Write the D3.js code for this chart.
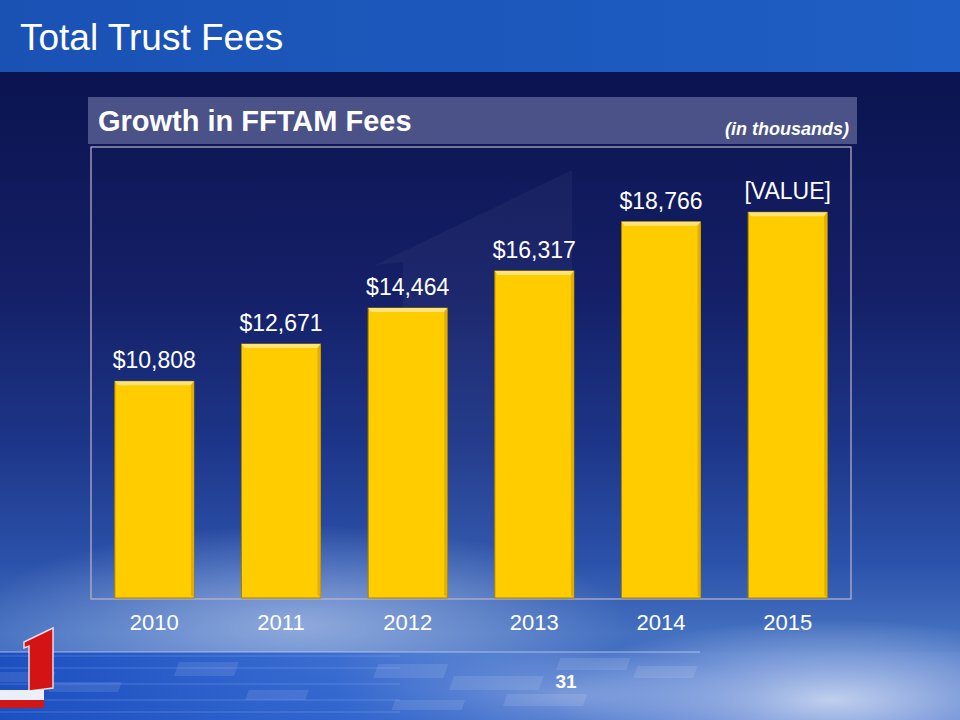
<!DOCTYPE html>
<html>
<head>
<meta charset="utf-8">
<script src="https://cdn.jsdelivr.net/npm/d3@7/dist/d3.min.js"></script>
<style>
  html, body { margin: 0; padding: 0; background: #0b1450; }
  svg { display: block; }
  text { font-family: "Liberation Sans", Arial, sans-serif; }
</style>
</head>
<body>
<svg id="chart" width="960" height="720"></svg>
<script>
// ---- data ----
const years = ["2010", "2011", "2012", "2013", "2014", "2015"];
const fees = [10808, 12671, 14464, 16317, 18766, 19243];
const feeLabels = ["$10,808", "$12,671", "$14,464", "$16,317", "$18,766", "[VALUE]"];
const slideTitle = "Total Trust Fees";
const chartTitle = "Growth in FFTAM Fees";
const unitNote = "(in thousands)";
const pageNumber = "31";

const svg = d3.select("#chart");
const W = 960, H = 720;
const defs = svg.append("defs");

// ---- background ----
const bg = defs.append("linearGradient").attr("id", "bg").attr("x1", 0).attr("y1", 0).attr("x2", 0).attr("y2", 1);
[[0.10, "#0b1450"], [0.40, "#141f66"], [0.62, "#1d3689"], [0.78, "#2b52aa"], [0.88, "#4470c0"], [1, "#3a66c4"]]
  .forEach(([o, c]) => bg.append("stop").attr("offset", o).attr("stop-color", c));
svg.append("rect").attr("width", W).attr("height", H).attr("fill", "url(#bg)");

const glow1 = defs.append("radialGradient").attr("id", "glow1");
glow1.append("stop").attr("offset", 0).attr("stop-color", "#a8bde6").attr("stop-opacity", 0.75);
glow1.append("stop").attr("offset", 1).attr("stop-color", "#a8bde6").attr("stop-opacity", 0);
svg.append("ellipse").attr("cx", 300).attr("cy", 625).attr("rx", 330).attr("ry", 100).attr("fill", "url(#glow1)");

const glow2 = defs.append("radialGradient").attr("id", "glow2");
glow2.append("stop").attr("offset", 0).attr("stop-color", "#ffffff").attr("stop-opacity", 0.75);
glow2.append("stop").attr("offset", 1).attr("stop-color", "#dfe8ff").attr("stop-opacity", 0);
svg.append("ellipse").attr("cx", 830).attr("cy", 700).attr("rx", 280).attr("ry", 80).attr("fill", "url(#glow2)");
svg.append("ellipse").attr("cx", 560).attr("cy", 695).attr("rx", 200).attr("ry", 45).attr("fill", "url(#glow2)").attr("opacity", 0.5);

// bottom strip (mosaic band)
const strip = defs.append("linearGradient").attr("id", "strip").attr("x1", 0).attr("x2", 1);
strip.append("stop").attr("offset", 0).attr("stop-color", "#1d4fc0");
strip.append("stop").attr("offset", 0.35).attr("stop-color", "#2c63d0").attr("stop-opacity", 0.8);
strip.append("stop").attr("offset", 0.6).attr("stop-color", "#5c86d8").attr("stop-opacity", 0.3);
strip.append("stop").attr("offset", 1).attr("stop-color", "#8aa8e6").attr("stop-opacity", 0.1);
svg.append("rect").attr("x", 0).attr("y", 652).attr("width", W).attr("height", 68).attr("fill", "url(#strip)");
svg.append("line").attr("x1", 0).attr("x2", 700).attr("y1", 652).attr("y2", 652)
  .attr("stroke", "#c8d4f0").attr("stroke-opacity", 0.5).attr("stroke-width", 1.5);
// mosaic tiles
const tiles = [[0,656,60,14],[70,660,80,12],[160,664,70,10],[20,676,90,10],[130,680,80,10],[240,672,60,10],
  [60,694,100,10],[200,690,90,12],[300,682,70,10],[420,662,60,14],[620,664,70,14],[700,676,90,14],
  [800,658,70,12],[880,666,60,12],[760,694,80,12],[650,700,70,10],[500,690,60,10]];
svg.append("g").selectAll("rect").data(tiles).join("rect")
  .attr("x", d => d[0]).attr("y", d => d[1]).attr("width", d => d[2]).attr("height", d => d[3])
  .attr("fill", "#ffffff").attr("opacity", 0.1).attr("transform", "skewX(-20)");
svg.append("g").selectAll("line").data([656, 668, 684, 700, 712]).join("line")
  .attr("x1", 0).attr("x2", 400).attr("y1", d => d).attr("y2", d => d)
  .attr("stroke", "#bcd0ff").attr("stroke-opacity", 0.25);

// top band
const band = defs.append("linearGradient").attr("id", "band").attr("x1", 0).attr("x2", 1);
band.append("stop").attr("offset", 0).attr("stop-color", "#1a52b4");
band.append("stop").attr("offset", 0.5).attr("stop-color", "#1c58bc");
band.append("stop").attr("offset", 1).attr("stop-color", "#1f5ec4");
svg.append("rect").attr("x", 0).attr("y", 0).attr("width", W).attr("height", 72).attr("fill", "url(#band)");

svg.append("text").attr("x", 20).attr("y", 50).attr("fill", "#ffffff")
  .attr("font-size", 37).text(slideTitle);

// logo "1"
const logo = svg.append("g");
logo.append("rect").attr("x", 0).attr("y", 690).attr("width", 44).attr("height", 10).attr("fill", "#ffffff").attr("opacity", 0.9);
logo.append("rect").attr("x", 0).attr("y", 700).attr("width", 44).attr("height", 8).attr("fill", "#d01818");
logo.append("path").attr("d", "M24,642 L53,628 L53,688 L29,691 L29,646 L24,648 Z")
  .attr("fill", "#d41414").attr("stroke", "#ffffff").attr("stroke-width", 1.5).attr("stroke-opacity", 0.8);

// ---- chart header ----
svg.append("rect").attr("x", 88).attr("y", 97).attr("width", 769).attr("height", 47).attr("fill", "#4a5288");
svg.append("text").attr("x", 98).attr("y", 131).attr("fill", "#ffffff")
  .attr("font-size", 29).attr("font-weight", "bold").text(chartTitle);
svg.append("text").attr("x", 849).attr("y", 135).attr("fill", "#ffffff").attr("text-anchor", "end")
  .attr("font-size", 18).attr("font-weight", "bold").attr("font-style", "italic").text(unitNote);

// ---- plot ----
const plot = { left: 91, right: 851, top: 147, bottom: 598 };

// faint background "1" watermark
svg.append("path").attr("d", "M375,265 L572,170 L572,598 L403,598 L403,262 Z")
  .attr("fill", "#ffffff").attr("opacity", 0.04);

svg.append("rect").attr("x", plot.left).attr("y", plot.top)
  .attr("width", plot.right - plot.left).attr("height", plot.bottom - plot.top + 1)
  .attr("fill", "none").attr("stroke", "#bdb6c8").attr("stroke-width", 1.2);

const x = d3.scaleBand().domain(years).range([plot.left, plot.right])
  .paddingInner(0.376).paddingOuter(0.188);
const y = d3.scaleLinear().domain([0, 22500]).range([plot.bottom, plot.top]);

const data = years.map((yr, i) => ({ yr, v: fees[i], label: feeLabels[i] }));

const barG = svg.append("g").selectAll("g").data(data).join("g");
barG.append("rect")
  .attr("x", d => x(d.yr)).attr("y", d => y(d.v))
  .attr("width", x.bandwidth()).attr("height", d => y(0) - y(d.v))
  .attr("fill", "#ffcc00").attr("stroke", "#a88400").attr("stroke-width", 1);
// bevel highlight
barG.append("path")
  .attr("d", d => {
    const x0 = x(d.yr), x1 = x0 + x.bandwidth(), t = y(d.v);
    return `M${x0},${t} L${x1},${t} L${x1 - 3},${t + 4} L${x0 + 3},${t + 4} Z`;
  })
  .attr("fill", "#ffe47a");
barG.append("path")
  .attr("d", d => {
    const x0 = x(d.yr), x1 = x0 + x.bandwidth(), t = y(d.v), b = y(0);
    return `M${x1},${t} L${x1},${b} L${x1 - 3},${b - 3} L${x1 - 3},${t + 4} Z`;
  })
  .attr("fill", "#e2ae00");
barG.append("text")
  .attr("x", d => x(d.yr) + x.bandwidth() / 2).attr("y", d => y(d.v) - 13)
  .attr("text-anchor", "middle").attr("fill", "#ffffff").attr("font-size", 23)
  .text(d => d.label);

// x axis
const xAxis = svg.append("g").attr("transform", `translate(0,${plot.bottom})`)
  .call(d3.axisBottom(x).tickSize(0).tickPadding(12));
xAxis.select(".domain").remove();
xAxis.selectAll("text").attr("fill", "#ffffff").attr("font-size", 22)
  .attr("font-family", "'Liberation Sans', Arial, sans-serif").attr("dy", "0.92em");

// page number
svg.append("text").attr("x", 566).attr("y", 688).attr("text-anchor", "middle").attr("fill", "#ffffff")
  .attr("font-size", 19).attr("font-weight", "bold").text(pageNumber);
</script>
</body>
</html>
